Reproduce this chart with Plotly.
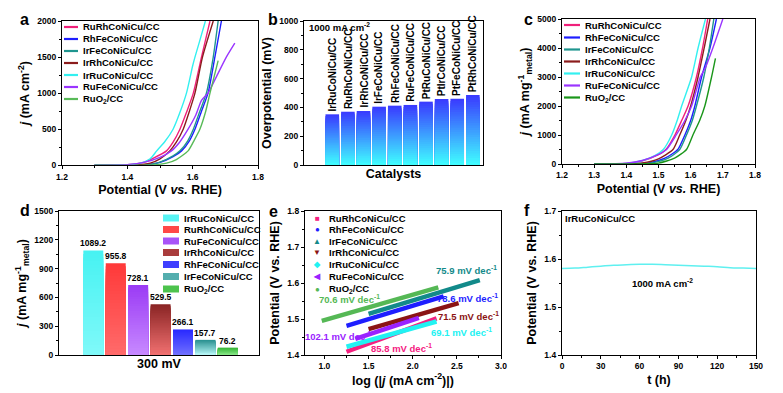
import plotly.graph_objects as go

W, H = 783, 393
FONT = "Liberation Sans, Arial, sans-serif"

# ---------------- data ----------------
names7 = ["RuRhCoNiCu/CC", "RhFeCoNiCu/CC", "IrFeCoNiCu/CC", "IrRhCoNiCu/CC",
          "IrRuCoNiCu/CC", "RuFeCoNiCu/CC", "RuO<sub>2</sub>/CC"]

# panel a : LSV, potential (V) vs j (mA cm-2)
a_rurh_v = [1.30, 1.40, 1.45, 1.48, 1.52, 1.54, 1.561, 1.58, 1.602, 1.627, 1.653]
a_rurh_j = [0, 10, 40, 100, 200, 320, 500, 720, 1000, 1500, 2000]
a_rhfe_v = [1.30, 1.45, 1.50, 1.54, 1.566, 1.59, 1.607, 1.627, 1.647, 1.668, 1.688]
a_rhfe_j = [0, 5, 40, 120, 200, 340, 500, 750, 1000, 1500, 2000]
a_irfe_v = [1.30, 1.45, 1.50, 1.54, 1.561, 1.585, 1.602, 1.622, 1.642, 1.663, 1.678]
a_irfe_j = [0, 5, 45, 130, 200, 340, 500, 750, 1000, 1500, 2000]
a_irrh_v = [1.30, 1.42, 1.47, 1.50, 1.53, 1.55, 1.571, 1.59, 1.607, 1.63, 1.663]
a_irrh_j = [0, 5, 30, 90, 200, 320, 500, 750, 1000, 1500, 2000]
a_irru_v = [1.30, 1.40, 1.44, 1.47, 1.49, 1.515, 1.54, 1.56, 1.581, 1.60, 1.607, 1.62, 1.639]
a_irru_j = [0, 8, 30, 90, 200, 330, 500, 720, 1000, 1380, 1500, 1700, 2000]
a_rufe_v = [1.30, 1.40, 1.45, 1.50, 1.535, 1.56, 1.586, 1.61, 1.627, 1.647, 1.675, 1.703, 1.729]
a_rufe_j = [0, 10, 40, 110, 200, 320, 500, 700, 900, 1000, 1250, 1500, 1694]
a_ruo2_v = [1.30, 1.48, 1.52, 1.55, 1.586, 1.605, 1.622, 1.64, 1.653, 1.678]
a_ruo2_j = [0, 5, 30, 80, 200, 350, 500, 750, 1000, 1450]

# panel b : overpotential at 1000 mA cm-2 (mV)
b_names = ["IrRuCoNiCu/CC", "RuRhCoNiCu/CC", "IrRhCoNiCu/CC", "IrFeCoNiCu/CC", "RhFeCoNiCu/CC",
           "RuFeCoNiCu/CC", "PtRuCoNiCu/CC", "PtIrCoNiCu/CC", "PtFeCoNiCu/CC", "PtRhCoNiCu/CC"]
b_vals = [352, 370, 375, 405, 412, 417, 440, 458, 460, 486]

# panel c : mass activity, potential (V) vs j (mA mg-1 metal)
c_rurh_v = [1.30, 1.40, 1.45, 1.50, 1.523, 1.551, 1.572, 1.592, 1.618, 1.637, 1.653]
c_rurh_j = [0, 20, 110, 320, 500, 1000, 1500, 2000, 3000, 4000, 5000]
c_rhfe_v = [1.30, 1.40, 1.47, 1.52, 1.56, 1.582, 1.60, 1.613, 1.634, 1.66, 1.68]
c_rhfe_j = [0, 5, 40, 200, 500, 1000, 1500, 2000, 3000, 4000, 5000]
c_irfe_v = [1.30, 1.40, 1.48, 1.53, 1.566, 1.587, 1.605, 1.618, 1.641, 1.658, 1.672]
c_irfe_j = [0, 5, 40, 200, 500, 1000, 1500, 2000, 3000, 4000, 5000]
c_irrh_v = [1.30, 1.35, 1.45, 1.50, 1.545, 1.566, 1.585, 1.60, 1.623, 1.642, 1.66]
c_irrh_j = [0, 5, 40, 180, 500, 1000, 1500, 2000, 3000, 4000, 5000]
c_irru_v = [1.30, 1.40, 1.45, 1.49, 1.515, 1.541, 1.558, 1.572, 1.603, 1.623, 1.646]
c_irru_j = [0, 20, 120, 300, 500, 1000, 1500, 2000, 3000, 4000, 5000]
c_rufe_v = [1.30, 1.40, 1.45, 1.50, 1.525, 1.555, 1.582, 1.603, 1.63, 1.645, 1.669, 1.70]
c_rufe_j = [0, 25, 120, 330, 500, 1000, 1500, 2000, 3000, 3300, 4000, 5000]
c_ruo2_v = [1.30, 1.45, 1.50, 1.55, 1.587, 1.607, 1.628, 1.644, 1.665, 1.677]
c_ruo2_j = [0, 5, 30, 200, 500, 1000, 1500, 2000, 3000, 3645]

# panel d : mass activity at 300 mV
d_names = ["IrRuCoNiCu/CC", "RuRhCoNiCu/CC", "RuFeCoNiCu/CC", "IrRhCoNiCu/CC",
           "RhFeCoNiCu/CC", "IrFeCoNiCu/CC", "RuO<sub>2</sub>/CC"]
d_vals = [1089.2, 955.8, 728.1, 529.5, 266.1, 157.7, 76.2]

# panel e : Tafel lines (log|j|, V) start/end
e_x = [[1.25, 2.27], [1.25, 2.35], [1.50, 2.76], [1.50, 2.52], [1.25, 2.27], [1.35, 2.07], [0.97, 2.29]]
e_y = [[1.409, 1.502], [1.481, 1.563], [1.514, 1.608], [1.472, 1.544], [1.423, 1.493], [1.445, 1.503], [1.495, 1.588]]
e_slopes = ["85.8", "78.6", "75.9", "71.5", "69.1", "102.1", "70.6"]
e_lab_x = [1.87, 2.62, 2.61, 2.63, 2.55, 1.15, 1.28]
e_lab_y = [1.419, 1.559, 1.636, 1.508, 1.463, 1.453, 1.555]

# panel f : chronopotentiometry
f_t = [0, 10, 20, 30, 40, 50, 60, 70, 80, 90, 100, 110, 120, 130, 140, 150]
f_v = [1.580, 1.581, 1.583, 1.585, 1.587, 1.588, 1.589, 1.589, 1.588, 1.587, 1.586, 1.585, 1.584, 1.582, 1.581, 1.580]

# ---------------- style ----------------
C7 = ["#f0207a", "#1e1eff", "#1f958f", "#8b1c1c", "#33f0f0", "#9a35ff", "#58ba58"]
C7c = ["#f0207a", "#1e1eff", "#1f958f", "#8b1c1c", "#33f0f0", "#9a35ff", "#1a961a"]
C7e = ["#f5207f", "#1e1eff", "#128a8a", "#8b1414", "#22f2f2", "#9a22ff", "#55b855"]
D_TOP = ["#47f2f2", "#ff3a3a", "#9b3cf5", "#8a2525", "#2a2aff", "#2a9090", "#35b535"]
D_BOT = ["#7ff9f9", "#ff6a6a", "#c788ff", "#f07070", "#7070ff", "#b5f5f5", "#85e585"]
B_TOP, B_BOT = "#3a3cff", "#40fbff"
E_SYM = ["■", "●", "▲", "▼", "◆", "◀", "●"]

PA = (62, 258, 21, 165.3)
PB = (304, 483, 21, 165)
PC = (562, 755, 19, 164)
PD = (59, 259, 211, 355)
PE = (305, 501, 211, 355)
PF = (562, 756, 211, 355)


def hx(c):
    c = c.lstrip("#")
    return [int(c[i:i + 2], 16) for i in (0, 2, 4)]


def lerp(c1, c2, t):
    a, b = hx(c1), hx(c2)
    return "rgb(%d,%d,%d)" % tuple(round(a[i] + (b[i] - a[i]) * t) for i in range(3))


def dom(box):
    l, r, t, b = box
    return [l / W, r / W], [1 - b / H, 1 - t / H]


def pd(box, px, py):
    l, r, t, b = box
    return (px - l) / (r - l), (b - py) / (b - t)


fig = go.Figure()

# panel a
a_series = [(a_rurh_v, a_rurh_j), (a_rhfe_v, a_rhfe_j), (a_irfe_v, a_irfe_j), (a_irrh_v, a_irrh_j),
            (a_irru_v, a_irru_j), (a_rufe_v, a_rufe_j), (a_ruo2_v, a_ruo2_j)]
for (v, j), col in zip(a_series, C7):
    fig.add_trace(go.Scatter(x=v, y=j, mode="lines", line=dict(color=col, width=1.4, shape="spline", smoothing=0.6),
                             xaxis="x", yaxis="y", showlegend=False))

# panel c
c_series = [(c_rurh_v, c_rurh_j), (c_rhfe_v, c_rhfe_j), (c_irfe_v, c_irfe_j), (c_irrh_v, c_irrh_j),
            (c_irru_v, c_irru_j), (c_rufe_v, c_rufe_j), (c_ruo2_v, c_ruo2_j)]
for (v, j), col in zip(c_series, C7c):
    fig.add_trace(go.Scatter(x=v, y=j, mode="lines", line=dict(color=col, width=1.4, shape="spline", smoothing=0.6),
                             xaxis="x3", yaxis="y3", showlegend=False))

# panel b : gradient bars via overlaid bars
NB = 30
for i in range(NB):
    frac = (NB - i) / NB
    fig.add_trace(go.Bar(x=list(range(len(b_vals))), y=[v * frac for v in b_vals], width=0.87,
                         marker=dict(color=lerp(B_TOP, B_BOT, i / (NB - 1)), line=dict(width=0)),
                         xaxis="x2", yaxis="y2", showlegend=False))

# panel d : gradient bars
for i in range(NB):
    frac = (NB - i) / NB
    cols = [lerp(t, b, i / (NB - 1)) for t, b in zip(D_TOP, D_BOT)]
    fig.add_trace(go.Bar(x=list(range(len(d_vals))), y=[v * frac for v in d_vals], width=0.89,
                         marker=dict(color=cols, line=dict(width=0)),
                         xaxis="x4", yaxis="y4", showlegend=False))

# panel e
for xs, ys, col in zip(e_x, e_y, C7e):
    fig.add_trace(go.Scatter(x=xs, y=ys, mode="lines", line=dict(color=col, width=4.5),
                             xaxis="x5", yaxis="y5", showlegend=False))

# panel f
fig.add_trace(go.Scatter(x=f_t, y=f_v, mode="lines", line=dict(color="#5ff0f0", width=1.5, shape="spline"),
                         xaxis="x6", yaxis="y6", showlegend=False))

# ---------------- axes ----------------
tickfont = dict(size=8.5, family=FONT, color="black", weight="bold")
titlefont = dict(size=12.5, family=FONT, color="black", weight="bold")


def axis(box, which, anchor, rng, dtick=None, minor=None, title="", standoff=4, showticks=True, **kw):
    xd, yd = dom(box)
    d = dict(domain=xd if which == "x" else yd, anchor=anchor, range=rng, automargin=False,
             showline=True, linecolor="black", linewidth=1.2, mirror=True,
             ticks="outside" if showticks else "", ticklen=3, tickwidth=1, tickcolor="black",
             showgrid=False, zeroline=False, tickfont=tickfont,
             title=dict(text=title, font=titlefont, standoff=standoff),
             showticklabels=showticks)
    if dtick is not None:
        d["dtick"] = dtick
    if minor is not None:
        d["minor"] = dict(ticks="outside", ticklen=2, tickcolor="black", dtick=minor, showgrid=False)
    d.update(kw)
    return d


pot_title = "Potential (V <i>vs.</i> RHE)"
jmass = "<i>j</i> (mA mg<sup>-1</sup><sub>metal</sub>)"
fig.update_layout(
    xaxis=axis(PA, "x", "y", [1.2, 1.8], 0.2, 0.1, pot_title, tickformat=".1f"),
    yaxis=axis(PA, "y", "x", [0, 2000], 500, 250, "<i>j</i> (mA cm<sup>-2</sup>)"),
    xaxis2=axis(PB, "x", "y2", [-1.81, 9.65], title="Catalysts", showticks=False),
    yaxis2=axis(PB, "y", "x2", [0, 1000], 200, 100, "Overpotential (mV)"),
    xaxis3=axis(PC, "x", "y3", [1.2, 1.8], 0.1, 0.05, pot_title, tickformat=".1f"),
    yaxis3=axis(PC, "y", "x3", [0, 5000], 1000, 500, jmass),
    xaxis4=axis(PD, "x", "y4", [-1.53, 7.39], title="300 mV", showticks=False),
    yaxis4=axis(PD, "y", "x4", [0, 1500], 300, 150, jmass),
    xaxis5=axis(PE, "x", "y5", [0.78, 3.0], 0.5, 0.25, "log (|<i>j</i> (mA cm<sup>-2</sup>)|)",
                tick0=1.0, tickformat=".1f"),
    yaxis5=axis(PE, "y", "x5", [1.4, 1.8], 0.1, 0.05, "Potential (V vs. RHE)", tickformat=".1f"),
    xaxis6=axis(PF, "x", "y6", [0, 150], 30, 15, "t (h)"),
    yaxis6=axis(PF, "y", "x6", [1.4, 1.7], 0.1, 0.05, "Potential (V vs. RHE)", tickformat=".1f"),
)

ann = []
shapes = []


def txt(text, x, y, xref, yref, size=9.5, color="black", xanchor="left", yanchor="middle", **kw):
    ann.append(dict(text=text, x=x, y=y, xref=xref, yref=yref, showarrow=False, xanchor=xanchor,
                    yanchor=yanchor, font=dict(size=size, family=FONT, color=color, weight="bold"), **kw))


# panel letters
for lab, px, py in [("a", 24, 19), ("b", 273, 19), ("c", 528, 19), ("d", 25, 210), ("e", 273, 211), ("f", 527, 210)]:
    txt(lab, px / W, 1 - py / H, "paper", "paper", size=16, xanchor="center")

# legend a / c (line keys)
for box, ax, rows, keyx, textx, cols in [
    (PA, "x", [27, 39, 51, 63, 75, 87, 99], (64, 78), 81, C7),
    (PC, "x3", [25, 37.5, 49.5, 61.5, 73.5, 85.5, 97.5], (564, 580), 583, C7c)]:
    ay = "y" + ax[1:]
    for k, py in enumerate(rows):
        x0, y0 = pd(box, keyx[0], py)
        x1, _ = pd(box, keyx[1], py)
        shapes.append(dict(type="line", xref=ax + " domain", yref=ay + " domain", x0=x0, x1=x1, y0=y0, y1=y0,
                           line=dict(color=cols[k], width=2.2)))
        tx, ty = pd(box, textx, py)
        txt(names7[k], tx, ty, ax + " domain", ay + " domain", size=9.5)

# legend d (bar keys)
for k, py in enumerate([218, 229.5, 241, 252.5, 264.5, 276.5, 289]):
    x0, y0 = pd(PD, 163, py - 3.5)
    x1, y1 = pd(PD, 179, py + 3.5)
    shapes.append(dict(type="rect", xref="x4 domain", yref="y4 domain", x0=x0, x1=x1, y0=y0, y1=y1,
                       line=dict(width=0), fillcolor=lerp(D_TOP[k], D_BOT[k], 0.3)))
    tx, ty = pd(PD, 182, py)
    txt(d_names[k], tx, ty, "x4 domain", "y4 domain", size=9.5)

# legend e (marker keys)
for k, py in enumerate([218, 229.5, 241, 252.5, 264.5, 276.5, 289]):
    mx, my = pd(PE, 317, py)
    txt(E_SYM[k], mx, my, "x5 domain", "y5 domain", size=8, color=C7e[k], xanchor="center")
    tx, ty = pd(PE, 327, py)
    txt(names7[k], tx, ty, "x5 domain", "y5 domain", size=9.5)

# panel b texts
tx, ty = pd(PB, 307, 27)
txt("1000 mA cm<sup>-2</sup>", tx, ty, "x2 domain", "y2 domain", size=9.5)
for i, (n, v) in enumerate(zip(b_names, b_vals)):
    txt(n, i, v, "x2", "y2", size=10, xanchor="center", yanchor="bottom", textangle=-90, yshift=1)

# panel d values
for i, v in enumerate(d_vals):
    txt("%.1f" % v, i, v, "x4", "y4", size=8.5, xanchor="center", yanchor="bottom", yshift=0)

# panel e slopes
for s, x, y, col in zip(e_slopes, e_lab_x, e_lab_y, C7e):
    txt(s + " mV dec<sup>-1</sup>", x, y, "x5", "y5", size=9.5, color=col, xanchor="center")

# panel f texts
tx, ty = pd(PF, 563, 218)
txt("IrRuCoNiCu/CC", tx, ty, "x6 domain", "y6 domain", size=9.5)
txt("1000 mA cm<sup>-2</sup>", 78, 1.55, "x6", "y6", size=9.5, xanchor="center")

fig.update_layout(
    width=W, height=H, margin=dict(l=0, r=0, t=0, b=0),
    paper_bgcolor="white", plot_bgcolor="white",
    barmode="overlay", showlegend=False,
    font=dict(family=FONT, color="black", weight="bold"),
    annotations=ann, shapes=shapes,
)

fig.write_html("out.html", config={"displayModeBar": False},
               post_script="document.body.style.margin='0px';document.body.style.overflow='hidden';")
